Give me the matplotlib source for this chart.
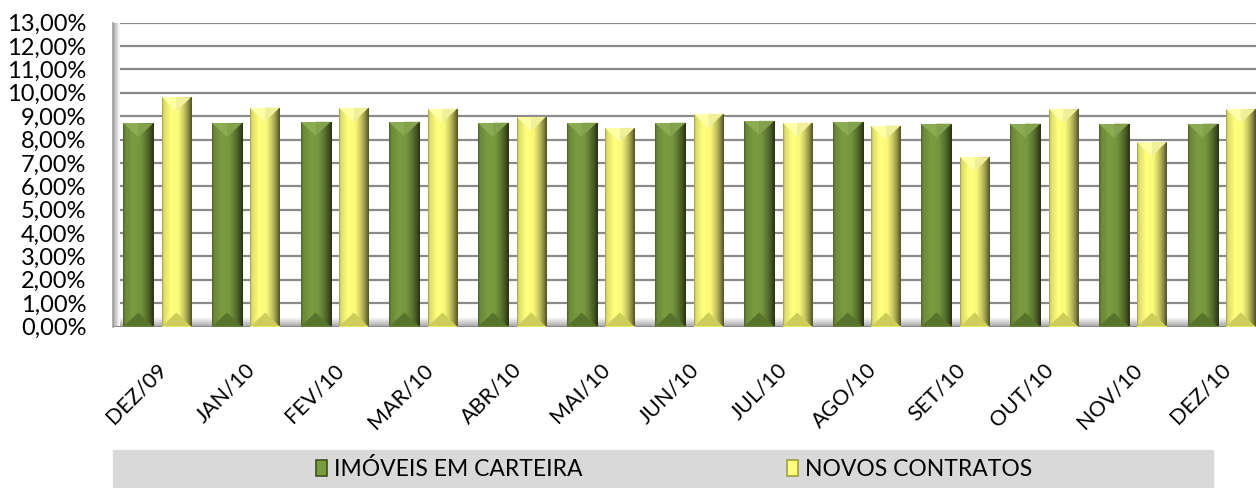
import numpy as np
import matplotlib
matplotlib.use('Agg')
import matplotlib.pyplot as plt
from matplotlib.patches import Polygon, Rectangle, Patch
from matplotlib.ticker import FuncFormatter

# dados do gráfico
meses = ['DEZ/09', 'JAN/10', 'FEV/10', 'MAR/10', 'ABR/10', 'MAI/10', 'JUN/10',
         'JUL/10', 'AGO/10', 'SET/10', 'OUT/10', 'NOV/10', 'DEZ/10']
imoveis_carteira = [8.70, 8.70, 8.76, 8.76, 8.72, 8.72, 8.72, 8.80, 8.76, 8.68, 8.68, 8.68, 8.68]
novos_contratos = [9.81, 9.37, 9.36, 9.32, 8.97, 8.50, 9.10, 8.72, 8.60, 7.24, 9.30, 7.90, 9.30]

VERDE = np.array([122, 155, 64]) / 255
AMARELO = np.array([255, 255, 125]) / 255

plt.rcParams['font.family'] = ['Lato', 'DejaVu Sans']

fig = plt.figure(figsize=(12.56, 4.88), dpi=100)
ax = fig.add_axes([113 / 1256, 161.5 / 488, 1153 / 1256, 303.8 / 488])
ax.set_xlim(-0.5, 12.5)
ax.set_ylim(0, 13)

PX_Y = 303.8 / 13   # pixels por 1%
bevel = 14 / PX_Y

# perfil horizontal do sombreado (efeito bisel)
perfil_x = [0.0, 0.05, 0.3, 0.55, 0.72, 0.87, 1.0]
perfil_v = [0.62, 0.86, 1.0, 0.98, 0.8, 0.58, 0.32]
xs = np.linspace(0, 1, 64)
mult = np.interp(xs, perfil_x, perfil_v)


def desenhar_barras(valores, offset, largura, cor, cor_topo, cor_base, rotulo):
    barras = ax.bar(np.arange(len(valores)) + offset, valores, largura,
                    color=cor, label=rotulo, zorder=3, linewidth=0)
    grad = np.clip(cor[None, None, :] * mult[None, :, None], 0, 1)
    for b in barras:
        x0, w, h = b.get_x(), b.get_width(), b.get_height()
        x1, xc = x0 + w, x0 + w / 2
        im = ax.imshow(grad, extent=[x0, x1, 0, h], aspect='auto',
                       interpolation='bilinear', zorder=3.1)
        im.set_clip_path(b)
        # faceta superior
        ax.add_patch(Polygon([(x0, h), (xc, h), (xc, h - bevel)],
                             closed=True, color=cor_topo, lw=0, zorder=3.2))
        ax.add_patch(Polygon([(xc, h), (x1, h), (xc, h - bevel)],
                             closed=True, color=cor_topo * 0.94, lw=0, zorder=3.2))
        # faceta inferior
        ax.add_patch(Polygon([(x0, 0), (x1, 0), (xc, bevel)],
                             closed=True, color=cor_base, lw=0, zorder=3.2))
    return barras


desenhar_barras(imoveis_carteira, -0.215, 0.34, VERDE,
                np.array([140, 172, 82]) / 255, np.array([88, 116, 44]) / 255,
                'IMÓVEIS EM CARTEIRA')
desenhar_barras(novos_contratos, 0.215, 0.33, AMARELO,
                np.array([255, 255, 165]) / 255, np.array([205, 205, 90]) / 255,
                'NOVOS CONTRATOS')

# grade e "paredes" 3D
ax.set_yticks(np.arange(0, 14, 1))
ax.yaxis.grid(True, color='#8a8a8a', linewidth=1.6, zorder=1)
ax.set_axisbelow(True)
piso = np.linspace(1.0, 0.68, 16)[:, None, None] * np.ones((1, 1, 3))
ax.imshow(piso, extent=[-0.5, 12.5, 0, 9 / PX_Y], aspect='auto', zorder=2,
          interpolation='bilinear', origin='upper')
parede = np.linspace(0.65, 1.0, 16)[None, :, None] * np.ones((1, 1, 3))
ax.imshow(parede, extent=[-0.5, -0.5 + 7 / 88.7, 0, 13], aspect='auto', zorder=2,
          interpolation='bilinear')
ax.set_xlim(-0.5, 12.5)
ax.set_ylim(0, 13)

for s in ['top', 'right', 'bottom']:
    ax.spines[s].set_visible(False)
ax.spines['left'].set_color('#a0a0a0')
ax.spines['left'].set_linewidth(1.2)

ax.yaxis.set_major_formatter(FuncFormatter(lambda v, p: f'{v:.2f}%'.replace('.', ',')))
ax.tick_params(axis='y', length=0, pad=19, labelsize=17)
ax.set_xticks(np.arange(len(meses)) + 0.07)
ax.set_xticklabels(meses, rotation=45, ha='right', va='center',
                   rotation_mode='anchor', fontsize=15.5)
ax.tick_params(axis='x', length=0, pad=29)

# caixa da legenda
fig.patches.append(Rectangle((113 / 1256, 0), 1100 / 1256, 38 / 488,
                             transform=fig.transFigure, color='#d9d9d9', zorder=0))
handles = [Patch(facecolor=VERDE, edgecolor='#3f5220', linewidth=1.2),
           Patch(facecolor=AMARELO, edgecolor='#a0a040', linewidth=1.2)]
fig.legend(handles, ['IMÓVEIS EM CARTEIRA', 'NOVOS CONTRATOS'], loc='center',
           bbox_to_anchor=(674 / 1256, 19 / 488), ncol=2,
           frameon=False, fontsize=16.5, handlelength=0.5, handleheight=0.65,
           handletextpad=0.3, columnspacing=8.9)

fig.savefig('out.png', dpi=100)
